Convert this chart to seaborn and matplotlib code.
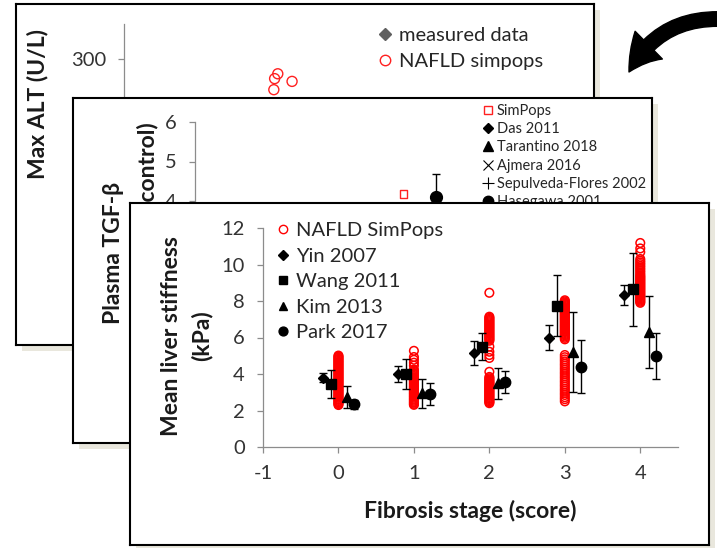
import numpy as np
import pandas as pd
import matplotlib
matplotlib.use("Agg")
import matplotlib.pyplot as plt
import seaborn as sns
from matplotlib.patches import FancyArrowPatch
from matplotlib.lines import Line2D

# ---------------- data ----------------
# Panel A: maximum ALT of simulated NAFLD populations
alt_sim_x = [0.94, 0.90, 1.12, 0.89]
alt_sim_y = [278, 271, 267, 255]
alt_ticks = [100, 200, 300]

# Panel B: plasma TGF-beta
tgf_sim_x = [1.70]
tgf_sim_y = [4.18]
tgf_hasegawa_x = [2.12]
tgf_hasegawa_y = [4.10]
tgf_hasegawa_err = [0.58]
tgf_ticks = [4, 5, 6]
tgf_legend = ["SimPops", "Das 2011", "Tarantino 2018", "Ajmera 2016",
              "Sepulveda-Flores 2002", "Hasegawa 2001"]

# Panel C: mean liver stiffness by fibrosis stage
stages = [0, 1, 2, 3, 4]
sim_stage0 = [2.30, 2.35, 2.41, 2.46, 2.52, 2.58, 2.63, 2.69, 2.75, 2.80, 2.86, 2.92,
              2.97, 3.03, 3.09, 3.14, 3.20, 3.26, 3.31, 3.37, 3.43, 3.48, 3.54, 3.60,
              3.65, 3.71, 3.77, 3.82, 3.88, 3.94, 3.99, 4.05, 4.11, 4.16, 4.22, 4.28,
              4.33, 4.39, 4.45, 4.50, 4.56, 4.62, 4.67, 4.73, 4.79, 4.84, 4.90, 4.96, 5.01]
sim_stage1 = [2.31, 2.36, 2.42, 2.47, 2.53, 2.59, 2.64, 2.70, 2.76, 2.81, 2.87, 2.93,
              2.98, 3.04, 3.10, 3.15, 3.21, 3.27, 3.32, 3.38, 3.44, 3.49, 3.55, 3.61,
              3.66, 3.72, 3.78, 3.83, 3.89, 3.95, 4.00, 4.06, 4.12, 4.18, 4.24,
              4.46, 4.62, 4.78, 4.93, 5.27]
sim_stage2 = [2.40, 2.46, 2.51, 2.57, 2.63, 2.68, 2.74, 2.80, 2.85, 2.91, 2.97, 3.02,
              3.08, 3.14, 3.19, 3.25, 3.31, 3.36, 3.42, 3.48, 3.53, 3.59, 3.65, 3.71,
              3.77, 3.84, 4.12, 4.88, 5.04, 5.22, 5.50, 5.82, 5.88, 5.94, 6.00, 6.06,
              6.12, 6.18, 6.24, 6.30, 6.36, 6.42, 6.48, 6.54, 6.60, 6.66, 6.72, 6.78,
              6.84, 6.90, 6.96, 7.02, 7.08, 7.14, 8.45]
sim_stage3 = [2.50, 2.62, 2.73, 2.85, 2.96, 3.08, 3.19, 3.31, 3.42, 3.54, 3.65, 3.77,
              3.88, 4.00, 4.11, 4.23, 4.34, 4.46, 4.57, 4.69, 4.80, 4.92, 5.04,
              5.90, 5.98, 6.05, 6.12, 6.18, 6.24, 6.30, 6.36, 6.42, 6.48, 6.54, 6.60,
              6.66, 6.72, 6.78, 6.84, 6.90, 6.96, 7.02, 7.08, 7.14, 7.20, 7.26, 7.32,
              7.38, 7.44, 7.50, 7.56, 7.62, 7.68, 7.74, 7.80, 7.86, 7.92, 7.98, 8.04]
sim_stage4 = [7.90, 7.96, 8.02, 8.08, 8.14, 8.20, 8.26, 8.32, 8.38, 8.44, 8.50, 8.56,
              8.62, 8.68, 8.74, 8.80, 8.86, 8.92, 8.98, 9.04, 9.10, 9.16, 9.22, 9.28,
              9.34, 9.40, 9.48, 9.57, 9.66, 9.75, 9.84, 9.93, 10.02, 10.11, 10.20,
              10.30, 10.68, 10.88, 11.18]

yin_mean = [3.80, 4.00, 5.15, 6.00, 8.35]
yin_err = [0.25, 0.45, 0.65, 0.70, 0.55]
wang_mean = [3.45, 4.00, 5.50, 7.75, 8.65]
wang_err = [0.75, 0.80, 0.75, 1.65, 2.00]
kim_mean = [2.75, 2.95, 3.50, 5.20, 6.30]
kim_err = [0.60, 0.80, 0.85, 2.20, 1.95]
park_mean = [2.35, 2.90, 3.55, 4.40, 5.00]
park_err = [0.25, 0.60, 0.60, 1.45, 1.25]

stiff_xticks = [-1, 0, 1, 2, 3, 4]
stiff_yticks = [0, 2, 4, 6, 8, 10, 12]

# ---------------- figure setup ----------------
sns.set_theme(style="white")
plt.rcParams["font.family"] = ["Lato", "DejaVu Sans"]

W, H = 717, 548
fig = plt.figure(figsize=(W / 100, H / 100), dpi=100)
fig.patch.set_facecolor("white")

TICK_COLOR = "#333333"
AXIS_COLOR = "#8c8c8c"
SHADOW = "#e9e7dd"
TITLE_SIZE = 16.5
TICK_SIZE = 14.5
LEG_SIZE = 14.5


def px_axes(x0, y0, x1, y1, z):
    return fig.add_axes([x0 / W, 1 - y1 / H, (x1 - x0) / W, (y1 - y0) / H], zorder=z)


def panel(x0, y0, x1, y1, z):
    sh = px_axes(x0 + 6, y0 + 6, x1 + 6, y1 + 6, z)
    sh.set_facecolor(SHADOW)
    sh.set_xticks([]); sh.set_yticks([])
    for s in sh.spines.values():
        s.set_visible(False)
    fr = px_axes(x0, y0, x1, y1, z + 0.1)
    fr.set_facecolor("white")
    fr.set_xticks([]); fr.set_yticks([])
    for s in fr.spines.values():
        s.set_visible(True)
        s.set_color("black")
        s.set_linewidth(1.5)
    return fr


def style_data_axes(ax, show_x=True):
    ax.set_facecolor("none")
    for side in ("top", "right"):
        ax.spines[side].set_visible(False)
    for side in ("left", "bottom"):
        ax.spines[side].set_color(AXIS_COLOR)
        ax.spines[side].set_linewidth(0.9)
    ax.tick_params(axis="both", which="major", direction="out", length=4,
                   width=0.9, color=AXIS_COLOR, labelcolor=TICK_COLOR,
                   labelsize=TICK_SIZE, pad=9, left=True, bottom=show_x)
    ax.set_xlabel("")
    ax.set_ylabel("")
    ax.grid(False)


def vlabel(x, y, s, z):
    fig.text(x / W, 1 - y / H, s, rotation=90, ha="center", va="center",
             fontsize=TITLE_SIZE, fontweight="bold", color="#1a1a1a", zorder=z)


# ---------------- panel A: ALT ----------------
panel(16, 4, 594, 345, 1)
axA = px_axes(124, 24, 560, 266, 2)
axA.set_xlim(-1, 4.5)
axA.set_ylim(0, 350)
sns.scatterplot(x=alt_sim_x, y=alt_sim_y, ax=axA, marker="o", s=52,
                facecolor="none", edgecolor="#ff2020", linewidth=1.0, legend=False)
style_data_axes(axA, show_x=False)
axA.set_xticks([])
axA.set_yticks(alt_ticks)
vlabel(38, 104, "Max ALT (U/L)", 2.5)
hA = [Line2D([], [], ls="", marker="D", ms=6, color="#606060"),
      Line2D([], [], ls="", marker="o", ms=7.5, mfc="none", mec="#ff2020", mew=1.0)]
axA.legend(hA, ["measured data", "NAFLD simpops"], loc="upper left",
           bbox_to_anchor=(377 / W, 1 - 27 / H), bbox_transform=fig.transFigure,
           frameon=False, fontsize=LEG_SIZE, handlelength=0.8, handletextpad=0.3,
           labelspacing=0.46, borderpad=0, borderaxespad=0)

# ---------------- panel B: TGF-beta ----------------
panel(73, 98, 652, 443, 3)
axB = px_axes(195, 122, 620, 359, 4)
axB.set_xlim(-1, 4.5)
axB.set_ylim(0, 6)
sns.scatterplot(x=tgf_sim_x, y=tgf_sim_y, ax=axB, marker="s", s=30,
                facecolor="none", edgecolor="#ff2020", linewidth=1.0, legend=False)
axB.errorbar(tgf_hasegawa_x, tgf_hasegawa_y, yerr=tgf_hasegawa_err, fmt="o",
             ms=8.5, color="black", elinewidth=1.0, capsize=3, capthick=1.0)
style_data_axes(axB, show_x=False)
axB.set_xticks([])
axB.set_yticks(tgf_ticks)
vlabel(113, 253, "Plasma TGF-\u03b2", 4.5)
vlabel(148, 253, "(fold change over control)", 4.5)
hB = [Line2D([], [], ls="", marker="s", ms=6, mfc="none", mec="#ff2020", mew=1.0),
      Line2D([], [], ls="", marker="D", ms=5.5, color="black"),
      Line2D([], [], ls="", marker="^", ms=7, color="black"),
      Line2D([], [], ls="", marker="x", ms=7, color="black", mew=0.8),
      Line2D([], [], ls="", marker="+", ms=8, color="black", mew=0.8),
      Line2D([], [], ls="", marker="o", ms=7.5, color="black")]
axB.legend(hB, tgf_legend, loc="upper left",
           bbox_to_anchor=(481 / W, 1 - 104 / H), bbox_transform=fig.transFigure,
           frameon=False, fontsize=10.5, handlelength=0.9, handletextpad=0.2,
           labelspacing=0.29, borderpad=0, borderaxespad=0)

# ---------------- panel C: liver stiffness ----------------
panel(130, 203, 709, 545, 5)
axC = px_axes(263, 228, 678, 447, 6)
axC.set_xlim(-1, 4.5)
axC.set_ylim(0, 12)

sim_df = pd.concat([
    pd.DataFrame({"stage": st, "stiffness": vals})
    for st, vals in zip(stages, [sim_stage0, sim_stage1, sim_stage2,
                                 sim_stage3, sim_stage4])
], ignore_index=True)
sns.scatterplot(data=sim_df, x="stage", y="stiffness", ax=axC, marker="o", s=38,
                facecolor="none", edgecolor="#ff0000", linewidth=1.1, legend=False,
                zorder=2)

studies = [
    ("Yin 2007", yin_mean, yin_err, "D", 5.5, -0.21),
    ("Wang 2011", wang_mean, wang_err, "s", 7.5, -0.10),
    ("Kim 2013", kim_mean, kim_err, "^", 7.5, 0.11),
    ("Park 2017", park_mean, park_err, "o", 7.5, 0.21),
]
for name, mean, err, mk, ms, off in studies:
    axC.errorbar(np.array(stages) + off, mean, yerr=err, fmt=mk, ms=ms,
                 color="black", elinewidth=1.0, capsize=3, capthick=1.0, zorder=3)

style_data_axes(axC)
axC.set_xticks(stiff_xticks)
axC.set_yticks(stiff_yticks)
axC.set_xticklabels([str(v) for v in stiff_xticks])
vlabel(171, 336, "Mean liver stiffness", 6.5)
vlabel(202, 336, "(kPa)", 6.5)
fig.text(470 / W, 1 - 511 / H, "Fibrosis stage (score)", ha="center", va="center",
         fontsize=TITLE_SIZE, fontweight="bold", color="#1a1a1a", zorder=6.5)

hC = [Line2D([], [], ls="", marker="o", ms=6, mfc="none", mec="#ff0000", mew=1.0)]
hC += [Line2D([], [], ls="", marker=mk, ms=ms * 0.85, color="black")
       for _, _, _, mk, ms, _ in studies]
axC.legend(hC, ["NAFLD SimPops"] + [s[0] for s in studies], loc="upper left",
           bbox_to_anchor=(275 / W, 1 - 222 / H), bbox_transform=fig.transFigure,
           frameon=False, fontsize=LEG_SIZE, handlelength=0.8, handletextpad=0.22,
           labelspacing=0.42, borderpad=0, borderaxespad=0)

# ---------------- curved arrow ----------------
arrow = FancyArrowPatch((718 / W, 1 - 19 / H), (629 / W, 1 - 72 / H),
                        transform=fig.transFigure,
                        connectionstyle="arc3,rad=0.3",
                        arrowstyle="simple,head_length=2.4,head_width=2.8,tail_width=1.05",
                        mutation_scale=10, color="black", shrinkA=0, shrinkB=0,
                        zorder=20)
fig.add_artist(arrow)

fig.savefig("out.png", dpi=100, facecolor="white")
